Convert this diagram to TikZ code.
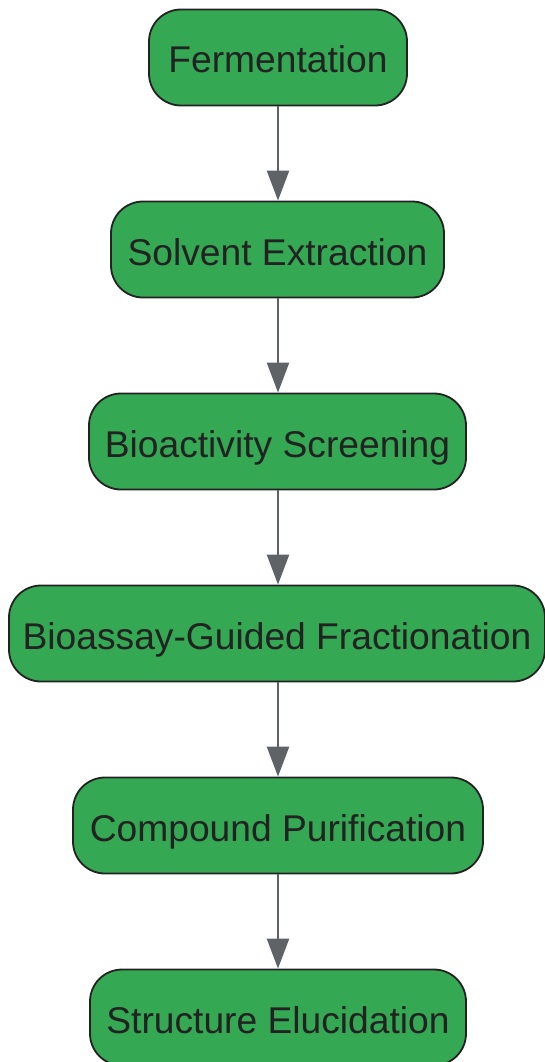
\documentclass[tikz,border=0pt]{standalone}
\usepackage{fontspec}
\setmainfont{Liberation Sans}
\usetikzlibrary{arrows.meta}
\definecolor{boxgreen}{HTML}{34A853}
\definecolor{boxline}{HTML}{222222}
\definecolor{arrowgray}{HTML}{5F6368}
\newcommand{\steptext}[1]{\raisebox{-2.5pt}[26pt][0pt]{#1}}
\tikzset{
  stepbox/.style={draw=boxline, line width=1.8pt, fill=boxgreen, rounded corners=32pt,
    minimum height=96pt, inner sep=0pt, text=boxline,
    font=\fontsize{37.2}{42}\selectfont},
  flow/.style={draw=arrowgray, line width=2.5pt,
    -{Triangle[length=30pt,width=22pt]}, shorten >=0pt}
}
\begin{document}
\begin{tikzpicture}[x=1pt,y=-1pt]
\useasboundingbox (0,0) rectangle (545,1062);
\node[stepbox, minimum width=258pt] (n1) at (278,57.5) {\steptext{Fermentation}};
\node[stepbox, minimum width=333pt] (n2) at (277.5,249.5) {\steptext{Solvent Extraction}};
\node[stepbox, minimum width=377pt] (n3) at (277.5,441.5) {\steptext{Bioactivity Screening}};
\node[stepbox, minimum width=536pt] (n4) at (277,633.5) {\steptext{Bioassay-Guided Fractionation}};
\node[stepbox, minimum width=410pt] (n5) at (278,825.5) {\steptext{Compound Purification}};
\node[stepbox, minimum width=376pt] (n6) at (278,1017.5) {\steptext{Structure Elucidation}};
\draw[flow] (n1.south -| 278,0) -- (n2.north -| 278,0);
\draw[flow] (n2.south -| 278,0) -- (n3.north -| 278,0);
\draw[flow] (n3.south -| 278,0) -- (n4.north -| 278,0);
\draw[flow] (n4.south -| 278,0) -- (n5.north -| 278,0);
\draw[flow] (n5.south -| 278,0) -- (n6.north -| 278,0);
\end{tikzpicture}
\end{document}
